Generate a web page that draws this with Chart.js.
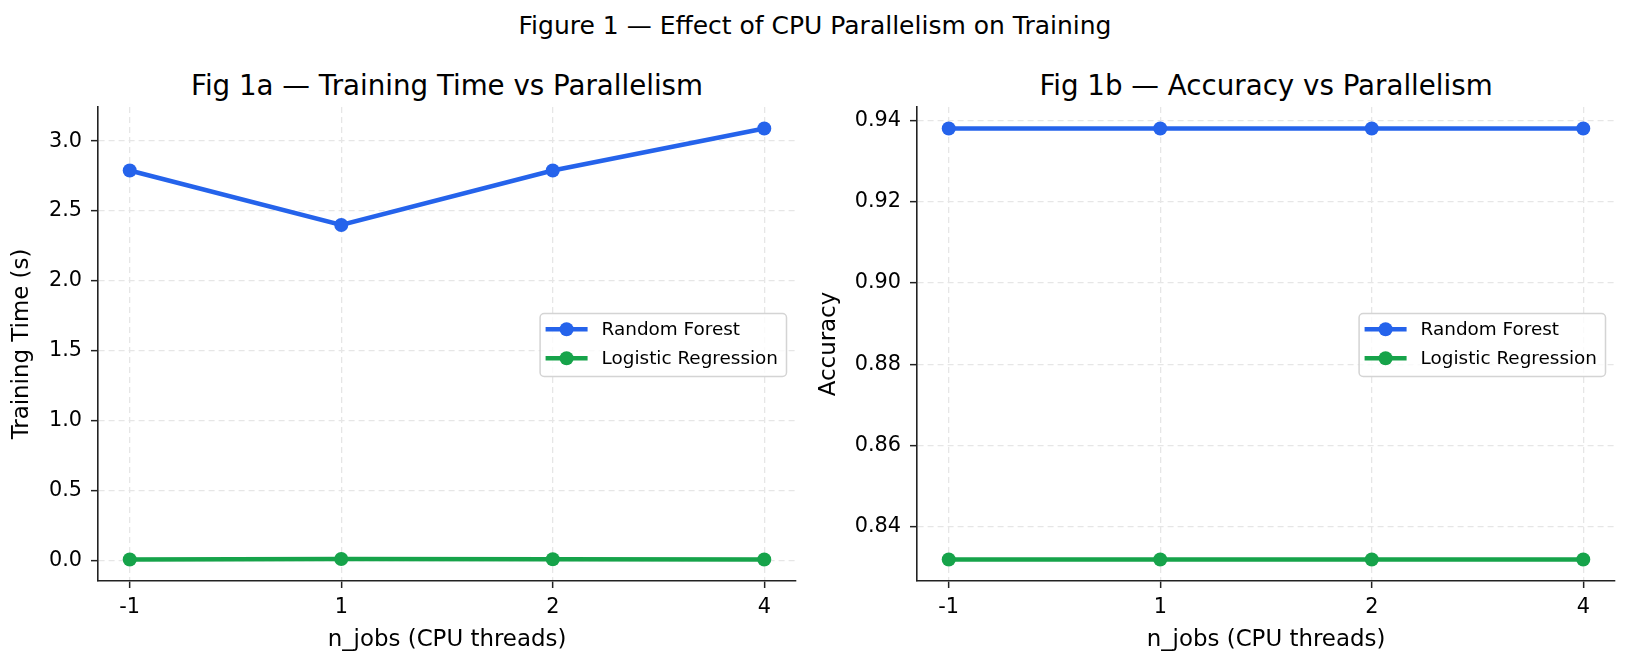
<!DOCTYPE html>
<html>
<head>
<meta charset="utf-8">
<script src="https://cdn.jsdelivr.net/npm/chart.js@4.4.1/dist/chart.umd.min.js"></script>
<style>
  body { margin: 0; background: #fff; font-family: "DejaVu Sans", sans-serif; }
  #fig { position: relative; width: 1630px; height: 666px; overflow: hidden; background: #fff; }
  .t { position: absolute; white-space: nowrap; color: #000; line-height: 1; transform: translateX(-50%); }
  .panel { position: absolute; top: 100px; width: 815px; height: 566px; }
</style>
</head>
<body>
<div id="fig">
  <div class="t" style="left:815px; top:13.3px; font-size:25px;">Figure 1 — Effect of CPU Parallelism on Training</div>
  <div class="t" style="left:447px; top:72px; font-size:27.7px;">Fig 1a — Training Time vs Parallelism</div>
  <div class="t" style="left:1266px; top:72px; font-size:27.7px;">Fig 1b — Accuracy vs Parallelism</div>
  <div class="panel" style="left:0px;"><canvas id="timeChart"></canvas></div>
  <div class="panel" style="left:815px;"><canvas id="accChart"></canvas></div>
</div>
<script>
// values
const nJobs = ['-1', '1', '2', '4'];
const rfTime = [2.79, 2.40, 2.79, 3.09];
const lrTime = [0.006, 0.009, 0.007, 0.006];
const rfAcc = [0.938, 0.938, 0.938, 0.938];
const lrAcc = [0.832, 0.832, 0.832, 0.832];
const timeTicks = [0, 0.5, 1.0, 1.5, 2.0, 2.5, 3.0];
const accTicks = [0.84, 0.86, 0.88, 0.90, 0.92, 0.94];

const BLUE = '#2563eb';
const GREEN = '#16a34a';

Chart.defaults.font.family = '"DejaVu Sans", sans-serif';
Chart.defaults.color = '#000';

// legend drawn inside the plot, right side, like matplotlib's "best"
const insideLegend = {
    id: 'insideLegend',
    afterDraw(chart) {
        const ctx = chart.ctx;
        const a = chart.chartArea;
        const sets = chart.data.datasets;
        ctx.save();
        ctx.font = '18.4px "DejaVu Sans"';
        const textW = Math.max(...sets.map(d => ctx.measureText(d.label).width));
        const right = a.right - 9.5;
        const textX = right - 8.5 - textW;
        const handleMid = textX - 35;
        const left = handleMid - 21 - 5.5;
        const h = 63;
        const top = (a.top + a.bottom) / 2 - h / 2 + 1;

        ctx.beginPath();
        ctx.roundRect(left, top, right - left, h, 4);
        ctx.fillStyle = 'rgba(255,255,255,0.8)';
        ctx.fill();
        ctx.lineWidth = 1.5;
        ctx.strokeStyle = '#d4d4d4';
        ctx.stroke();

        sets.forEach((d, i) => {
            const y = top + 15.7 + i * 29;
            ctx.strokeStyle = d.borderColor;
            ctx.lineWidth = 4.5;
            ctx.beginPath();
            ctx.moveTo(handleMid - 21, y);
            ctx.lineTo(handleMid + 21, y);
            ctx.stroke();
            ctx.fillStyle = d.borderColor;
            ctx.beginPath();
            ctx.arc(handleMid, y, 7, 0, Math.PI * 2);
            ctx.fill();
            ctx.fillStyle = '#000';
            ctx.textBaseline = 'middle';
            ctx.fillText(d.label, textX, y + 1);
        });
        ctx.restore();
    }
};

function series(label, values, color) {
    return {
        label: label,
        data: values.map((v, i) => ({ x: i, y: v })),
        borderColor: color,
        backgroundColor: color,
        borderWidth: 4.5,
        pointRadius: 7,
        pointHoverRadius: 7,
        pointBorderWidth: 0,
        pointBackgroundColor: color,
        tension: 0
    };
}

function padRange(arrs) {
    const all = [].concat(...arrs);
    const lo = Math.min(...all), hi = Math.max(...all);
    const m = (hi - lo) * 0.05;
    return [lo - m, hi + m];
}

const gridOpts = { color: '#e6e6e6', lineWidth: 1.3, tickColor: '#222', tickWidth: 1.5, tickLength: 7, tickBorderDash: [] };
const borderOpts = { color: '#222', width: 1.6, dash: [6, 4] };

function makeChart(id, datasets, yTicks, digits, yTitle, yWidth, yTitlePad, rightPad) {
    const [yMin, yMax] = padRange(datasets.map(d => d.data.map(p => p.y)));
    new Chart(document.getElementById(id).getContext('2d'), {
        type: 'line',
        data: { datasets: datasets },
        options: {
            responsive: true,
            maintainAspectRatio: false,
            animation: false,
            events: [],
            layout: { padding: { top: 5.7, right: rightPad, left: 0, bottom: 0 } },
            plugins: { legend: { display: false }, tooltip: { enabled: false } },
            scales: {
                x: {
                    type: 'linear',
                    min: -0.15,
                    max: nJobs.length - 1 + 0.15,
                    afterBuildTicks: s => { s.ticks = nJobs.map((_, i) => ({ value: i })); },
                    afterFit: s => { s.height = 85; s.paddingLeft = 0; s.paddingRight = 0; },
                    ticks: { callback: v => nJobs[v], font: { size: 20.8 }, color: '#000', padding: 7, maxRotation: 0, autoSkip: false },
                    grid: gridOpts,
                    border: borderOpts,
                    title: { display: true, text: 'n_jobs (CPU threads)', font: { size: 22.9 }, color: '#000', padding: { top: 0, bottom: 12.3 } }
                },
                y: {
                    min: yMin,
                    max: yMax,
                    afterBuildTicks: s => { s.ticks = yTicks.map(v => ({ value: v })); },
                    afterFit: s => { s.width = yWidth; s.paddingTop = 0; s.paddingBottom = 0; },
                    ticks: { callback: v => v.toFixed(digits), font: { size: 20.8 }, color: '#000', padding: 9 },
                    grid: gridOpts,
                    border: borderOpts,
                    title: { display: true, text: yTitle, font: { size: 22.9 }, color: '#000', padding: { top: yTitlePad, bottom: 0 } }
                }
            }
        },
        plugins: [insideLegend]
    });
}

makeChart('timeChart',
    [series('Random Forest', rfTime, BLUE), series('Logistic Regression', lrTime, GREEN)],
    timeTicks, 1, 'Training Time (s)', 98, 8.5, 19);

makeChart('accChart',
    [series('Random Forest', rfAcc, BLUE), series('Logistic Regression', lrAcc, GREEN)],
    accTicks, 2, 'Accuracy', 102, 0.8, 15);
</script>
</body>
</html>
